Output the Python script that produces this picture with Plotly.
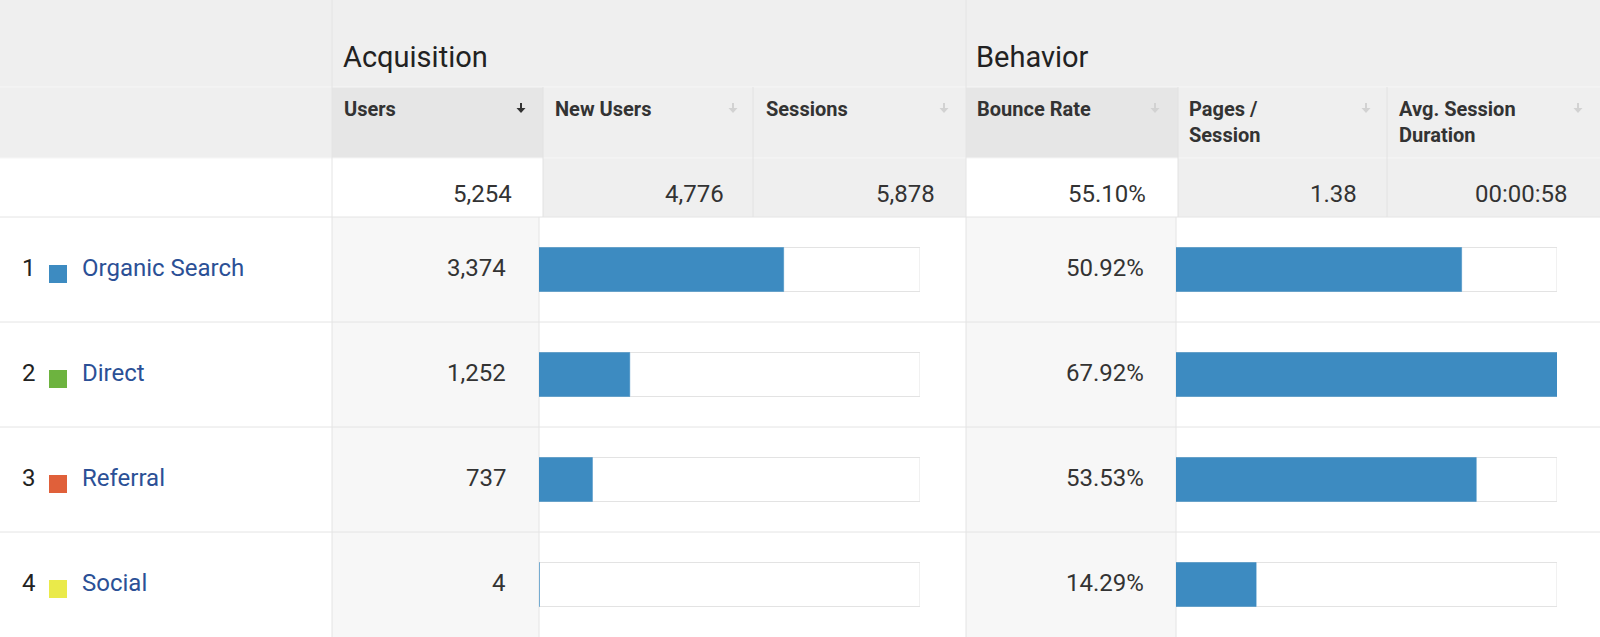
import plotly.graph_objects as go

# ---------------- data ----------------
channels = ["Organic Search", "Direct", "Referral", "Social"]
channel_colors = ["#3d8bc1", "#6db33f", "#e0603a", "#eaea4a"]
users = [3374, 1252, 737, 4]
bounce_rate = [50.92, 67.92, 53.53, 14.29]

group_labels = ["Acquisition", "Behavior"]
metric_labels = ["Users", "New Users", "Sessions", "Bounce Rate", "Pages /<br>Session", "Avg. Session<br>Duration"]
total_users = 5254
totals = ["5,254", "4,776", "5,878", "55.10%", "1.38", "00:00:58"]

W, H = 1600, 637
FONT = "Roboto, Arial, sans-serif"
BAR = "#3d8bc1"

def px(x):
    return x / W

def py(y):
    return 1 - y / H

fig = go.Figure()

shapes = []
annotations = []

def rect(x0, y0, x1, y1, fill, line=None):
    shapes.append(dict(type="rect", xref="paper", yref="paper",
                       x0=px(x0), x1=px(x1), y0=py(y1), y1=py(y0),
                       fillcolor=fill, line=dict(width=0 if line is None else 1, color=line or fill),
                       layer="below"))

def hline(y, x0, x1, color):
    shapes.append(dict(type="line", xref="paper", yref="paper",
                       x0=px(x0), x1=px(x1), y0=py(y), y1=py(y),
                       line=dict(color=color, width=1), layer="below"))

def vline(x, y0, y1, color):
    shapes.append(dict(type="line", xref="paper", yref="paper",
                       x0=px(x), x1=px(x), y0=py(y0), y1=py(y1),
                       line=dict(color=color, width=1), layer="below"))

def sort_arrow(cx, top, color):
    # stem
    shapes.append(dict(type="rect", xref="paper", yref="paper",
                       x0=px(cx - 1), x1=px(cx + 1), y0=py(top + 6), y1=py(top),
                       fillcolor=color, line=dict(width=0)))
    # head
    path = (f"M {px(cx - 4.5)} {py(top + 5)} L {px(cx + 4.5)} {py(top + 5)} "
            f"L {px(cx)} {py(top + 10)} Z")
    shapes.append(dict(type="path", xref="paper", yref="paper", path=path,
                       fillcolor=color, line=dict(width=0)))

GRAY = "#efefef"
SORTED = "#e6e6e6"
SHADE = "#f7f7f7"
GRID = "#e4e4e4"

col_edges = [332, 543, 753, 966, 1178, 1387, 1600]

# header row 1
rect(0, 0, W, 87, GRAY)
# header row 2
rect(0, 87, W, 158, GRAY)
for i in range(6):
    fill = SORTED if i in (0, 3) else GRAY
    rect(col_edges[i], 87, col_edges[i + 1], 158, fill)
# totals row
rect(0, 158, W, 217, "#ffffff")
for i in range(6):
    fill = "#ffffff" if i in (0, 3) else GRAY
    rect(col_edges[i], 158, col_edges[i + 1], 217, fill)

# data rows
rect(0, 217, W, H, "#ffffff")
rect(332, 217, 539, H, SHADE)
rect(966, 217, 1176, H, SHADE)

# grid lines
hline(87, 0, W, "#f6f6f6")
hline(158, 0, W, "#f6f6f6")
for y in (217, 322, 427, 532):
    hline(y, 0, W, GRID)
vline(332, 0, H, GRID)
vline(966, 0, H, GRID)
for x in (543, 753, 1178, 1387):
    vline(x, 87, 217, "#e2e2e2")
vline(539, 217, H, GRID)
vline(1176, 217, H, GRID)

# header text
annotations.append(dict(text=group_labels[0], x=px(341), y=py(57), xanchor="left", yanchor="middle",
                        font=dict(family=FONT, size=29, color="#222222")))
annotations.append(dict(text=group_labels[1], x=px(974), y=py(57), xanchor="left", yanchor="middle",
                        font=dict(family=FONT, size=29, color="#222222")))

label_x = [342, 553, 764, 975, 1187, 1397]
arrow_x = [521, 733, 944, 1155, 1366, 1578]
total_right = [514, 726, 937, 1148, 1359, 1570]
for i, lab in enumerate(metric_labels):
    annotations.append(dict(text="<b>" + lab + "</b>", x=px(label_x[i]), y=py(95), xanchor="left", yanchor="top",
                            align="left", font=dict(family=FONT, size=20, color="#333333")))
    sort_arrow(arrow_x[i], 103, "#333333" if i == 0 else "#d2d2d2")
    annotations.append(dict(text=totals[i], x=px(total_right[i]), y=py(194), xanchor="right", yanchor="middle",
                            font=dict(family=FONT, size=24, color="#333333")))

# rows
row_top = 217
row_h = 105
for r, ch in enumerate(channels):
    cy = row_top + row_h * r + row_h / 2 - 1.5
    annotations.append(dict(text=str(r + 1), x=px(20), y=py(cy), xanchor="left", yanchor="middle",
                            font=dict(family=FONT, size=24, color="#222222")))
    shapes.append(dict(type="rect", xref="paper", yref="paper",
                       x0=px(49), x1=px(67), y0=py(cy + 15), y1=py(cy - 3),
                       fillcolor=channel_colors[r], line=dict(width=0)))
    annotations.append(dict(text=ch, x=px(80), y=py(cy), xanchor="left", yanchor="middle",
                            font=dict(family=FONT, size=24, color="#2b5096")))
    annotations.append(dict(text=f"{users[r]:,}", x=px(508), y=py(cy), xanchor="right", yanchor="middle",
                            font=dict(family=FONT, size=24, color="#333333")))
    annotations.append(dict(text=f"{bounce_rate[r]:.2f}%", x=px(1146), y=py(cy), xanchor="right", yanchor="middle",
                            font=dict(family=FONT, size=24, color="#333333")))

# bars
rows = list(range(len(channels)))
bar_w = 44 / row_h
max_bounce = max(bounce_rate)

fig.add_trace(go.Bar(x=[total_users] * len(rows), y=rows, orientation="h", width=bar_w,
                     marker=dict(color="#ffffff", line=dict(color="#e3e3e3", width=1)),
                     xaxis="x", yaxis="y", hoverinfo="skip", showlegend=False))
fig.add_trace(go.Bar(x=users, y=rows, orientation="h", width=bar_w,
                     marker=dict(color=BAR, line=dict(color=BAR, width=0.5)),
                     xaxis="x", yaxis="y", hoverinfo="skip", showlegend=False))
fig.add_trace(go.Bar(x=[max_bounce] * len(rows), y=rows, orientation="h", width=bar_w,
                     marker=dict(color="#ffffff", line=dict(color="#e3e3e3", width=1)),
                     xaxis="x2", yaxis="y2", hoverinfo="skip", showlegend=False))
fig.add_trace(go.Bar(x=bounce_rate, y=rows, orientation="h", width=bar_w,
                     marker=dict(color=BAR, line=dict(color=BAR, width=0.5)),
                     xaxis="x2", yaxis="y2", hoverinfo="skip", showlegend=False))

axis_common = dict(visible=False, showgrid=False, zeroline=False, fixedrange=True)
fig.update_layout(
    width=W, height=H,
    margin=dict(l=0, r=0, t=0, b=0),
    paper_bgcolor="#ffffff", plot_bgcolor="rgba(0,0,0,0)",
    barmode="overlay",
    xaxis=dict(domain=[px(539), px(920)], range=[0, total_users], anchor="y", **axis_common),
    yaxis=dict(domain=[0, py(217)], range=[len(rows) - 0.5, -0.5], anchor="x", **axis_common),
    xaxis2=dict(domain=[px(1176), px(1557)], range=[0, max_bounce], anchor="y2", **axis_common),
    yaxis2=dict(domain=[0, py(217)], range=[len(rows) - 0.5, -0.5], anchor="x2", **axis_common),
    shapes=shapes,
    annotations=[dict(a, xref="paper", yref="paper", showarrow=False) for a in annotations],
    showlegend=False,
)

fig.write_html("out.html", config={"displayModeBar": False},
               post_script="document.body.style.margin='0';document.body.style.overflow='hidden';")
